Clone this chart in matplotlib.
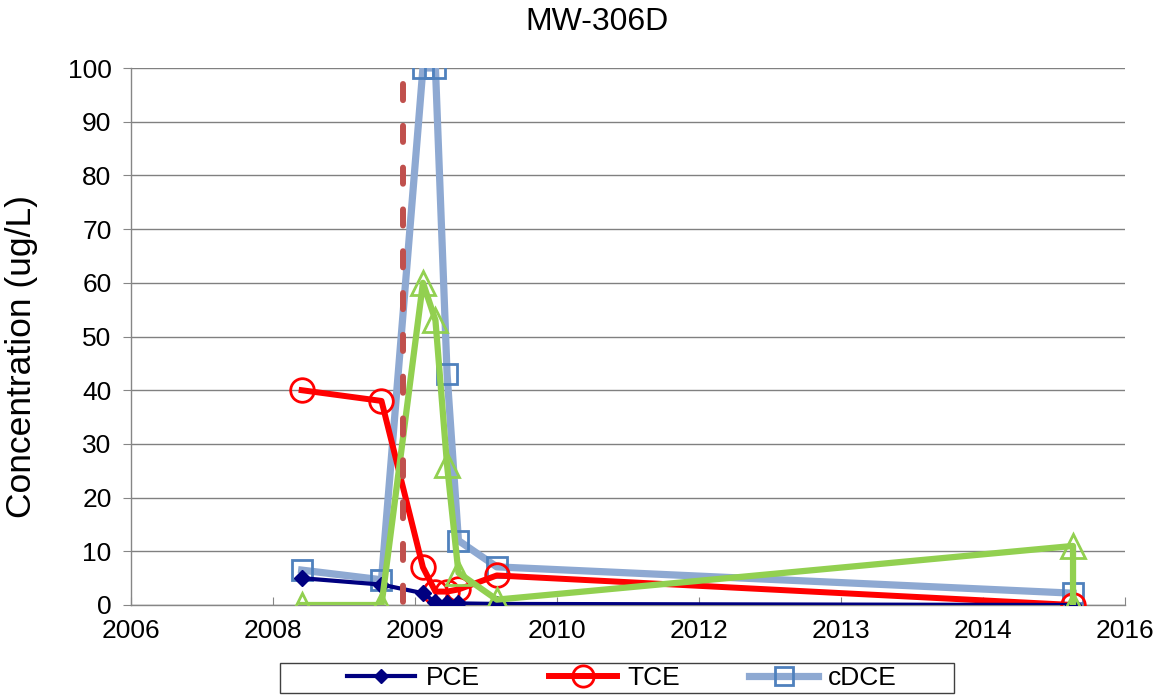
import matplotlib
matplotlib.use("Agg")
import matplotlib.pyplot as plt
import matplotlib.dates as mdates
import pandas as pd
from matplotlib.patches import Rectangle

# ---------------- data ----------------
dates = ["2008-05-08", "2009-02-13", "2009-07-09", "2009-08-22",
         "2009-10-02", "2009-11-11", "2010-03-26", "2015-10-15"]
pce = [5.0, 3.8, 2.2, 0.5, 0.3, 0.3, 0.2, 0.0]
tce = [40.0, 38.0, 7.0, 2.5, 2.5, 2.9, 5.5, 0.0]
cdce = [6.5, 4.7, 100.0, 100.0, 43.0, 12.0, 7.1, 2.2]
vc_dates = ["2008-05-08", "2009-02-13", "2009-07-09", "2009-08-22",
            "2009-10-02", "2009-11-11", "2010-03-26", "2015-10-15", "2015-10-15"]
vc = [0.0, 0.0, 60.0, 53.0, 26.0, 6.0, 1.0, 11.0, 0.0]
event_dates = ["2009-04-30", "2009-04-30"]
event_vals = [0.0, 97.0]

x_start = "2006-09-15"
tick_step_days = 500
n_ticks = 8
y_ticks = list(range(0, 101, 10))

title = "MW-306D"
ylabel = "Concentration (ug/L)"

# ---------------- plot ----------------
plt.rcParams['font.family'] = ['Liberation Sans', 'DejaVu Sans']

fig = plt.figure(figsize=(11.61, 6.96), dpi=100)
ax = fig.add_axes([131/1161, 1-605/696, (1125-131)/1161, (605-68)/696])

d = pd.to_datetime(dates)
dv = pd.to_datetime(vc_dates)
de = pd.to_datetime(event_dates)

ax.plot(d, cdce, color='#8EA9D2', lw=5.2, marker='s', ms=15, mfc='none',
        mec='#4F81BD', mew=2, zorder=3, label='cDCE')
ax.plot(d, tce, color='#FF0000', lw=4.3, marker='o', ms=17, mfc='none',
        mec='#FF0000', mew=2, zorder=4, label='TCE')
ax.plot(d, pce, color='#000080', lw=3, marker='D', ms=8, mfc='#000080',
        mec='#000080', zorder=5, label='PCE')
ax.plot(dv, vc, color='#92D050', lw=4.5, marker='^', ms=17, mfc='none',
        mec='#92D050', mew=2, zorder=6)
ax.plot(de[::-1], event_vals[::-1], color='#C0504D', lw=4.3,
        dashes=(2.7, 4.3), dash_capstyle='round', zorder=7)

x0 = pd.Timestamp(x_start)
ticks = [x0 + pd.Timedelta(days=tick_step_days*k) for k in range(n_ticks)]
ax.set_xlim(ticks[0], ticks[-1])
ax.set_xticks(ticks)
ax.xaxis.set_major_formatter(mdates.DateFormatter('%Y'))
ax.set_ylim(0, 100)
ax.set_yticks(y_ticks)

ax.grid(axis='y', color='#808080', lw=1)
ax.set_axisbelow(True)
for s in ['top', 'right']:
    ax.spines[s].set_visible(False)
for s in ['left', 'bottom']:
    ax.spines[s].set_color('#868686')
    ax.spines[s].set_linewidth(1)

ax.tick_params(axis='y', direction='out', length=6, color='#868686',
               labelsize=19, pad=8)
ax.tick_params(axis='x', direction='in', length=6, color='#868686',
               labelsize=19, pad=10)

fig.text(597/1161, 1-22/696, title, fontsize=23, ha='center', va='center')
fig.text(22/1161, 1-356/696, ylabel, fontsize=25.5, rotation=90,
         ha='center', va='center')

handles, labels = ax.get_legend_handles_labels()
order = [2, 1, 0]
leg = fig.legend([handles[i] for i in order], [labels[i] for i in order],
                 loc='center', bbox_to_anchor=(622/1161, 1-678/696),
                 ncol=3, frameon=False, fontsize=19, handlelength=2.6,
                 handletextpad=0.4, columnspacing=2.6, markerscale=0.9)
fig.patches.append(Rectangle((280/1161, 1-693/696), (954-280)/1161, 30/696,
                             transform=fig.transFigure, fill=False,
                             edgecolor='#404040', lw=1))

fig.savefig('out.png', dpi=100)
